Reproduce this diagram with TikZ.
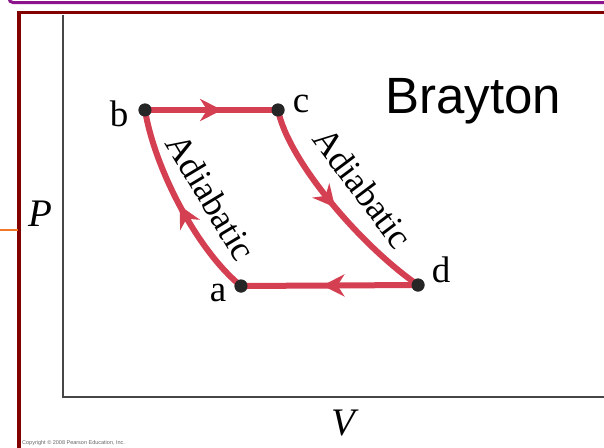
\documentclass[tikz,border=0pt]{standalone}
\usepackage{fontspec}
\setmainfont{Liberation Serif}
\newfontfamily\braytonfont{Liberation Sans}
\usetikzlibrary{arrows.meta,decorations.markings}
\definecolor{cyclered}{RGB}{212,64,82}
\definecolor{framered}{RGB}{130,0,0}
\definecolor{framepurple}{RGB}{140,20,140}
\definecolor{axisgray}{RGB}{70,70,70}
\definecolor{lineorange}{RGB}{240,120,40}
\tikzset{
  cycle/.style={draw=cyclered, line width=6pt},
  midarrow/.style={postaction={decorate},
    decoration={markings, mark=at position #1 with {\arrow{Stealth[length=22pt,width=22pt,inset=7pt,fill=cyclered,color=cyclered]}}}},
  statept/.style={circle, fill=black!85, inner sep=0pt, minimum size=13pt},
  statelbl/.style={font=\fontsize{37}{37}\selectfont},
  axislbl/.style={font=\fontsize{39}{39}\selectfont\itshape},
  adialbl/.style={font=\fontsize{36}{36}\selectfont},
}
\begin{document}
\begin{tikzpicture}[x=1pt,y=-1pt]
\useasboundingbox (0,0) rectangle (604,447);
\fill[white] (0,0) rectangle (604,447);
% frames
\draw[framepurple, line width=3pt, rounded corners=4pt] (9,-20) -- (9,2.5) -- (620,2.5);
\draw[framered, line width=3.5pt] (19,460) -- (19,12.5) -- (620,12.5);
\draw[lineorange, line width=2pt] (0,230) -- (18,230);
% axes
\coordinate (origin) at (63,397);
\coordinate (ytop) at (63,15);
\coordinate (xend) at (610,397);
\draw[axisgray, line width=2pt] (ytop) -- (origin) -- (xend);
\node[axislbl] (P) at (40,214) {P};
\node[axislbl] (V) at (343,423) {V};
% states
\node[statept] (b) at (145,110) {};
\node[statept] (c) at (278,110) {};
\node[statept] (d) at (418,285) {};
\node[statept] (a) at (241,286) {};
% cycle
\path[cycle, midarrow=0.58] (b.center) -- (c.center);
\path[cycle, midarrow=0.5] (c.center) .. controls (288,160) and (360,245) .. (d.center);
\path[cycle, midarrow=0.54] (d.center) -- (a.center);
\path[cycle, midarrow=0.5] (a.center) .. controls (198,251) and (155,170) .. (b.center);
\node[statept] at (b) {};
\node[statept] at (c) {};
\node[statept] at (d) {};
\node[statept] at (a) {};
% labels
\node[statelbl] (lb) at (119,114) {b};
\node[statelbl] (lc) at (301,104) {c};
\node[statelbl] (ld) at (441,270) {d};
\node[statelbl] (la) at (218,293) {a};
\node[adialbl, rotate=-59] (adl) at (211,197) {Adiabatic};
\node[adialbl, rotate=-53] (adr) at (363,188) {Adiabatic};
\node[font=\braytonfont\fontsize{51}{51}\selectfont, anchor=base west] (title) at (382,113) {Brayton};
\node[font=\braytonfont\fontsize{5.5}{6}\selectfont, text=black!60, anchor=base west, inner sep=0pt] (copy) at (22,444) {Copyright \textcopyright\ 2008 Pearson Education, Inc.};
\end{tikzpicture}
\end{document}
